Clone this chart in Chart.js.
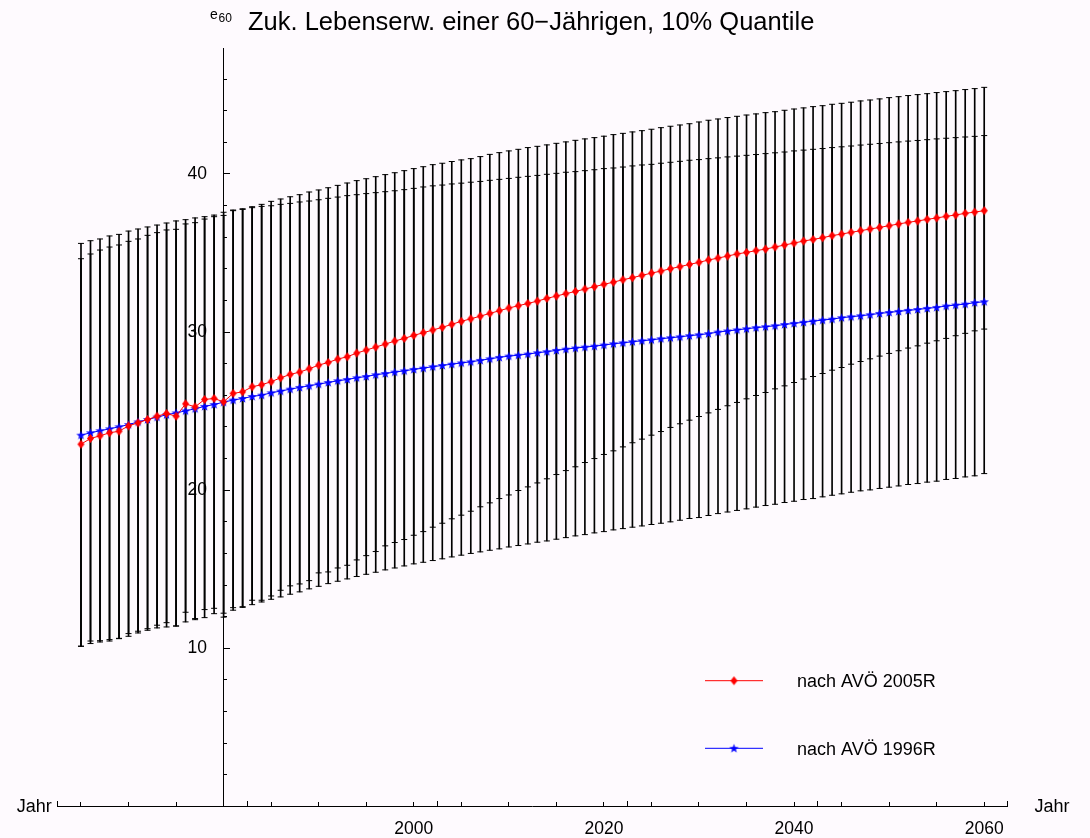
<!DOCTYPE html>
<html>
<head>
<meta charset="utf-8">
<script src="https://cdn.jsdelivr.net/npm/chart.js@4/dist/chart.umd.min.js"></script>
<style>
  html, body { margin: 0; padding: 0; background: #fefafe; }
  canvas { display: block; }
</style>
</head>
<body>
<canvas id="c" width="1090" height="838"></canvas>
<script>
// ---------------- DATA ----------------
const years = [1965,1966,1967,1968,1969,1970,1971,1972,1973,1974,1975,1976,1977,1978,1979,1980,
  1981,1982,1983,1984,1985,1986,1987,1988,1989,1990,1991,1992,1993,1994,1995,1996,1997,1998,1999,2000,
  2001,2002,2003,2004,2005,2006,2007,2008,2009,2010,2011,2012,2013,2014,2015,2016,2017,2018,2019,2020,
  2021,2022,2023,2024,2025,2026,2027,2028,2029,2030,2031,2032,2033,2034,2035,2036,2037,2038,2039,2040,
  2041,2042,2043,2044,2045,2046,2047,2048,2049,2050,2051,2052,2053,2054,2055,2056,2057,2058,2059,2060];

// nach AVÖ 2005R (red, diamonds)
const avo2005 = [22.91,23.27,23.44,23.63,23.73,24.07,24.26,24.47,24.68,24.85,24.68,25.46,25.27,25.74,25.80,25.59,
  26.12,26.22,26.54,26.67,26.86,27.11,27.32,27.47,27.68,27.91,28.08,28.29,28.44,28.67,28.86,29.05,29.24,29.43,29.60,29.79,29.96,30.13,30.30,30.49,30.68,30.84,
  31.01,31.18,31.35,31.52,31.67,31.81,31.96,32.13,32.28,32.43,32.57,32.72,32.87,33.02,33.16,33.31,33.44,33.59,33.73,33.86,34.01,34.14,34.28,34.41,34.56,
  34.68,34.81,34.94,35.04,35.15,35.25,35.38,35.51,35.63,35.76,35.86,35.97,36.10,36.20,36.31,36.41,36.52,36.62,36.73,36.84,36.94,37.03,37.13,37.22,37.32,37.41,37.51,37.59,37.68];

// nach AVÖ 1996R (blue, stars)
const avo1996 = [23.48,23.63,23.76,23.88,24.01,24.15,24.32,24.47,24.62,24.77,24.89,25.02,25.15,25.30,25.42,25.57,
  25.70,25.80,25.93,26.01,26.16,26.27,26.39,26.50,26.60,26.71,26.81,26.92,27.00,27.11,27.19,27.30,27.38,27.47,27.55,27.64,27.72,27.81,27.89,27.97,28.05,28.12,
  28.21,28.31,28.40,28.48,28.54,28.61,28.69,28.76,28.84,28.92,28.99,29.05,29.11,29.18,29.26,29.32,29.39,29.45,29.51,29.58,29.64,29.70,29.77,29.83,29.90,
  30.00,30.07,30.14,30.21,30.28,30.34,30.40,30.48,30.55,30.62,30.69,30.76,30.82,30.91,30.97,31.03,31.10,31.18,31.24,31.31,31.37,31.43,31.50,31.56,31.65,31.71,31.77,31.86,31.92];

// error bar ends
const hi2005 = [35.61,35.78,35.89,36.08,36.18,36.39,36.52,36.65,36.77,36.90,37.03,37.11,37.22,37.30,37.40,37.58,
  37.72,37.80,37.93,38.08,38.27,38.42,38.56,38.69,38.86,38.99,39.13,39.28,39.43,39.58,39.70,39.83,39.96,40.08,40.21,40.34,40.46,40.59,40.68,40.79,40.89,40.97,
  41.10,41.24,41.35,41.46,41.56,41.67,41.75,41.84,41.94,42.03,42.13,42.22,42.30,42.39,42.49,42.57,42.66,42.74,42.83,42.93,43.02,43.10,43.18,43.29,43.40,
  43.48,43.57,43.65,43.73,43.80,43.88,43.94,44.03,44.11,44.18,44.26,44.32,44.41,44.47,44.54,44.62,44.68,44.75,44.83,44.89,44.96,45.02,45.08,45.15,45.21,45.27,45.34,45.40,45.48];

const hi1996 = [34.64,34.94,35.19,35.38,35.51,35.74,35.89,36.12,36.29,36.46,36.50,36.84,36.92,37.15,37.30,37.38,
  37.68,37.76,37.87,37.95,37.99,38.08,38.14,38.23,38.29,38.37,38.46,38.54,38.63,38.69,38.76,38.82,38.88,38.94,39.01,39.09,39.18,39.25,39.30,39.37,39.42,39.48,
  39.53,39.60,39.66,39.72,39.79,39.85,39.91,39.98,40.04,40.11,40.15,40.21,40.27,40.34,40.38,40.44,40.51,40.57,40.61,40.68,40.74,40.80,40.87,40.91,40.97,
  41.02,41.08,41.13,41.18,41.23,41.29,41.34,41.39,41.46,41.51,41.56,41.61,41.67,41.72,41.77,41.83,41.88,41.93,41.98,42.03,42.08,42.12,42.17,42.22,42.26,42.30,42.34,42.38,42.43];

const lo2005 = [10.13,10.46,10.48,10.55,10.63,10.93,11.08,11.24,11.46,11.62,11.41,12.28,11.88,12.45,12.53,12.22,
  12.57,12.63,13.04,13.04,13.31,13.67,13.95,14.07,14.28,14.77,14.83,15.08,15.25,15.59,15.86,16.12,16.48,16.69,16.88,17.15,17.38,17.66,17.91,18.19,18.42,18.67,
  18.95,19.20,19.47,19.70,19.98,20.21,20.46,20.72,20.99,21.24,21.48,21.75,22.00,22.26,22.49,22.74,23.00,23.23,23.48,23.71,23.97,24.20,24.43,24.66,24.89,
  25.11,25.34,25.55,25.78,25.99,26.18,26.41,26.60,26.81,27.03,27.19,27.38,27.59,27.76,27.97,28.14,28.31,28.48,28.65,28.82,28.99,29.13,29.30,29.45,29.60,29.77,29.92,30.08,30.19];

const lo1996 = [10.13,10.30,10.40,10.46,10.61,10.76,10.97,11.14,11.29,11.35,11.41,11.67,11.81,11.94,12.19,11.97,
  12.41,12.59,12.76,12.93,13.10,13.25,13.42,13.57,13.76,13.92,14.09,14.24,14.39,14.54,14.68,14.81,14.96,15.08,15.21,15.34,15.44,15.55,15.66,15.78,15.89,16.00,
  16.10,16.20,16.29,16.41,16.50,16.60,16.71,16.79,16.90,17.00,17.11,17.19,17.30,17.38,17.49,17.57,17.66,17.74,17.83,17.91,18.00,18.10,18.21,18.27,18.40,
  18.52,18.62,18.72,18.82,18.93,19.03,19.11,19.22,19.30,19.41,19.47,19.58,19.68,19.77,19.87,19.96,20.02,20.11,20.19,20.27,20.36,20.42,20.51,20.57,20.68,20.74,20.84,20.91,21.05];

const xTickLabels = ['2000', '2020', '2040', '2060'];
const yTickLabels = ['10', '20', '30', '40'];
const seriesNames = ['nach AVÖ 2005R', 'nach AVÖ 1996R'];
const titleText = 'Zuk. Lebenserw. einer 60\u2212Jährigen, 10% Quantile';
const yAxisName = ['e', '60'];
const xAxisName = 'Jahr';

// ---------------- STYLE ----------------
const FONT = "'Liberation Sans', Arial, Helvetica, sans-serif";
const BG = '#fefafe';
const RED = '#ff0000';
const BLUE = '#0000ff';

function makeStar(color) {
  const c = document.createElement('canvas');
  c.width = 11; c.height = 11;
  const g = c.getContext('2d');
  g.fillStyle = color;
  g.beginPath();
  const cx = 5.5, cy = 5.8, R = 4.9, r = 2.0;
  for (let i = 0; i < 10; i++) {
    const a = -Math.PI / 2 + i * Math.PI / 5;
    const rr = i % 2 === 0 ? R : r;
    const px = cx + rr * Math.cos(a), py = cy + rr * Math.sin(a);
    if (i === 0) g.moveTo(px, py); else g.lineTo(px, py);
  }
  g.closePath();
  g.fill();
  return c;
}
function makeDiamond(color) {
  const c = document.createElement('canvas');
  c.width = 9; c.height = 11;
  const g = c.getContext('2d');
  g.fillStyle = color;
  g.beginPath();
  g.moveTo(4.5, 1); g.lineTo(8, 5.5); g.lineTo(4.5, 10); g.lineTo(1, 5.5);
  g.closePath();
  g.fill();
  return c;
}
const starImg = makeStar(BLUE);
const diamondImg = makeDiamond(RED);

const toPoints = (vals) => years.map((yr, i) => ({ x: yr, y: vals[i] }));
const toRanges = (lo, hi) => years.map((yr, i) => ({ x: yr, y: [lo[i], hi[i]] }));

const capDataset = (vals) => ({
  type: 'line', data: toPoints(vals), showLine: false,
  pointStyle: 'line', pointRadius: 3, pointHoverRadius: 3,
  pointBorderColor: '#000', pointBorderWidth: 1, pointBackgroundColor: '#000',
  order: 2
});
const barDataset = (lo, hi) => ({
  type: 'bar', data: toRanges(lo, hi), backgroundColor: '#000', borderWidth: 0,
  barThickness: 1, grouped: false, order: 3
});

const decoPlugin = {
  id: 'deco',
  beforeDraw(chart) {
    const ctx = chart.ctx;
    ctx.save();
    ctx.fillStyle = BG;
    ctx.fillRect(0, 0, chart.width, chart.height);
    ctx.restore();
  },
  afterDraw(chart) {
    const ctx = chart.ctx;
    const xs = chart.scales.x, ys = chart.scales.y;
    const y0 = ys.getPixelForValue(0);
    ctx.save();
    ctx.fillStyle = '#000';
    ctx.textBaseline = 'alphabetic';
    // title
    ctx.font = '25.5px ' + FONT;
    ctx.textAlign = 'left';
    ctx.fillText(titleText, 248, 29.5);
    // y axis name e_60
    ctx.font = '14px ' + FONT;
    ctx.fillText(yAxisName[0], 210, 18.5);
    ctx.font = '12px ' + FONT;
    ctx.fillText(yAxisName[1], 218.5, 21.8);
    // x tick labels (placed through the x scale)
    ctx.font = '17.5px ' + FONT;
    ctx.textAlign = 'center';
    xTickLabels.forEach(lbl => {
      ctx.fillText(lbl, xs.getPixelForValue(Number(lbl)), y0 + 27.6);
    });
    // x axis names
    ctx.font = '18px ' + FONT;
    ctx.textAlign = 'right';
    ctx.fillText(xAxisName, xs.left - 6, y0 + 5.2);
    ctx.textAlign = 'left';
    ctx.fillText(xAxisName, xs.right + 27, y0 + 5.2);
    // legend
    const entries = [
      { name: seriesNames[0], color: RED, img: diamondImg, y: 680.7 },
      { name: seriesNames[1], color: BLUE, img: starImg, y: 748.3 }
    ];
    entries.forEach(e => {
      ctx.strokeStyle = e.color;
      ctx.lineWidth = 1;
      ctx.beginPath();
      ctx.moveTo(705, e.y);
      ctx.lineTo(763, e.y);
      ctx.stroke();
      ctx.drawImage(e.img, 734 - e.img.width / 2, e.y - e.img.height / 2);
      ctx.fillStyle = '#000';
      ctx.font = '18px ' + FONT;
      ctx.textAlign = 'left';
      ctx.fillText(e.name, 797, e.y + 6.5);
    });
    ctx.restore();
  }
};

const X_MIN = 1962.55, X_MAX = 2062.45, Y_MIN = 0, Y_MAX = 47.95;
const tickFont = { family: FONT, size: 17.5 };

new Chart(document.getElementById('c'), {
  type: 'bar',
  data: {
    datasets: [
      {
        type: 'line', label: seriesNames[0], data: toPoints(avo2005),
        borderColor: RED, borderWidth: 1, backgroundColor: RED,
        pointStyle: diamondImg, pointRadius: 4, tension: 0, order: 0
      },
      {
        type: 'line', label: seriesNames[1], data: toPoints(avo1996),
        borderColor: BLUE, borderWidth: 1, backgroundColor: BLUE,
        pointStyle: starImg, pointRadius: 4, tension: 0, order: 0
      },
      barDataset(lo2005, hi2005),
      barDataset(lo1996, hi1996),
      capDataset(hi2005),
      capDataset(hi1996),
      capDataset(lo2005),
      capDataset(lo1996)
    ]
  },
  options: {
    responsive: false,
    animation: false,
    devicePixelRatio: 1,
    events: [],
    layout: { padding: { left: 57.7, right: 82.5, top: 48.3, bottom: 31.6 } },
    plugins: { legend: { display: false }, tooltip: { enabled: false }, title: { display: false } },
    scales: {
      x: {
        type: 'linear', axis: 'x', position: { y: 0 }, min: X_MIN, max: X_MAX, offset: false,
        ticks: { stepSize: 20, includeBounds: false, autoSkip: false, maxRotation: 0, display: false },
        grid: { offset: false, drawOnChartArea: false, drawTicks: true, tickLength: -6, color: '#000', lineWidth: 1 },
        border: { display: true, color: '#000', width: 1 }
      },
      xMinor: {
        type: 'linear', axis: 'x', position: { y: 0 }, min: X_MIN, max: X_MAX, offset: false,
        ticks: { stepSize: 5, includeBounds: false, display: false },
        grid: { offset: false, drawOnChartArea: false, drawTicks: true, tickLength: -4, color: '#000', lineWidth: 1 },
        border: { display: false }
      },
      y: {
        type: 'linear', axis: 'y', position: { x: 1980 }, min: Y_MIN, max: Y_MAX,
        ticks: { stepSize: 2, includeBounds: false, display: false },
        grid: { drawOnChartArea: false, drawTicks: true, tickLength: -4, color: '#000', lineWidth: 1 },
        border: { display: true, color: '#000', width: 1 }
      },
      yMajor: {
        type: 'linear', axis: 'y', position: { x: 1980 }, min: Y_MIN, max: Y_MAX,
        ticks: { stepSize: 10, includeBounds: false, display: false },
        grid: { drawOnChartArea: false, drawTicks: true, tickLength: -6, color: '#000', lineWidth: 1 },
        border: { display: false }
      },
      yLab: {
        type: 'linear', axis: 'y', position: { x: 1978.25 }, min: Y_MIN, max: Y_MAX,
        ticks: {
          stepSize: 10, includeBounds: false, padding: 0, color: '#000', font: tickFont,
          callback: (v) => yTickLabels.includes(String(v)) ? String(v) : ''
        },
        grid: { display: false, drawTicks: false },
        border: { display: false }
      }
    }
  },
  plugins: [decoPlugin]
});
</script>
</body>
</html>
